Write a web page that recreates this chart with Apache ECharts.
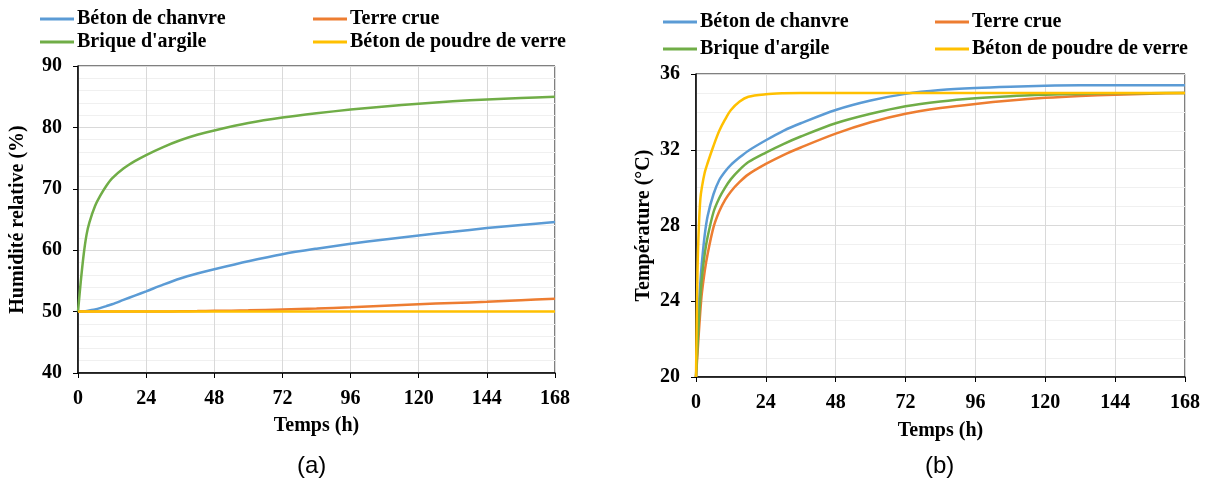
<!DOCTYPE html>
<html>
<head>
<meta charset="utf-8">
<script src="https://cdn.jsdelivr.net/npm/echarts@6/dist/echarts.min.js"></script>
<style>
html,body{margin:0;padding:0;background:#fff;}
#c{width:1205px;height:484px;}
</style>
</head>
<body>
<div id="c"></div>
<script>
// ---- Data ----
const seriesNames = ['Béton de chanvre', 'Terre crue', "Brique d'argile", 'Béton de poudre de verre'];
const xTicks = [0, 24, 48, 72, 96, 120, 144, 168];

// (a) Relative humidity
const timesRH = [0,1,2,3,4,6,8,10,12,16,20,24,30,36,42,48,60,72,84,96,108,120,132,144,156,168];
const rhChanvre = [50,50.02,50.05,50.1,50.2,50.35,50.6,50.9,51.2,51.9,52.6,53.3,54.4,55.4,56.2,56.9,58.2,59.35,60.25,61.05,61.75,62.4,63.0,63.6,64.1,64.6];
const rhTerre = [50,50,50,50,50,50,50,50,50,50,50,50,50.02,50.05,50.08,50.12,50.2,50.35,50.5,50.7,50.95,51.2,51.4,51.6,51.85,52.1];
const rhBrique = [50,55,59.3,62.5,64.5,67.2,69.0,70.5,71.7,73.3,74.5,75.5,76.8,77.9,78.8,79.5,80.7,81.6,82.3,82.9,83.4,83.85,84.25,84.55,84.8,85.0];
const rhVerre = [50,50,50,50,50,50,50,50,50,50,50,50,50,50,50,50,50,50,50,50,50,50,50,50,50,50];

// (b) Temperature
const timesT = [0,0.5,1,1.5,2,3,4,6,8,10,12,15,18,24,30,36,48,60,72,84,96,108,120,132,144,156,168];
const tChanvre = [20,22.0,23.8,25.0,26.0,27.5,28.5,29.65,30.4,30.85,31.2,31.6,31.95,32.5,33.0,33.4,34.1,34.6,34.95,35.15,35.26,35.33,35.38,35.4,35.4,35.4,35.4];
const tTerre = [20,21.2,22.4,23.5,24.4,25.6,26.5,27.9,28.75,29.35,29.8,30.3,30.7,31.25,31.72,32.12,32.85,33.45,33.9,34.2,34.42,34.6,34.74,34.84,34.91,34.96,35.0];
const tBrique = [20,21.6,23.0,24.2,25.2,26.5,27.4,28.7,29.45,30.0,30.45,30.95,31.35,31.85,32.3,32.7,33.4,33.9,34.3,34.55,34.72,34.83,34.9,34.95,34.98,34.99,35.0];
const tVerre = [20,25.5,28.0,29.4,30.0,30.8,31.3,32.2,33.0,33.6,34.1,34.55,34.8,34.93,34.98,35,35,35,35,35,35,35,35,35,35,35,35];

const colors = ['#5B9BD5', '#ED7D31', '#70AD47', '#FFC000'];

// ---- Chart ----
const FONT = '"Liberation Serif","Times New Roman",serif';
const chart = echarts.init(document.getElementById('c'), null, {renderer: 'canvas'});

function pairs(xs, ys) { return xs.map((x, i) => [x, ys[i]]); }

function xAxisCfg(gridIndex, nameGap) {
  return {
    type: 'value', gridIndex, min: 0, max: 168, interval: 24,
    name: 'Temps (h)', nameLocation: 'middle', nameGap,
    nameTextStyle: {fontFamily: FONT, fontWeight: 'bold', fontSize: 20, color: '#000'},
    axisLine: {show: true, onZero: false, lineStyle: {color: '#000', width: 1.5}},
    axisTick: {show: true, inside: false, length: 5, lineStyle: {color: '#000', width: 1}},
    axisLabel: {fontFamily: FONT, fontWeight: 'bold', fontSize: 20, color: '#000', margin: 16},
    splitLine: {show: true, lineStyle: {color: '#d9d9d9', width: 1}}
  };
}
function yAxisCfg(gridIndex, min, max, interval, minorSplit, name, nameGap) {
  return {
    type: 'value', gridIndex, min, max, interval,
    name, nameLocation: 'middle', nameGap, nameRotate: 90,
    nameTextStyle: {fontFamily: FONT, fontWeight: 'bold', fontSize: 20, color: '#000'},
    axisLine: {show: true, onZero: false, lineStyle: {color: '#000', width: 1.5}},
    axisTick: {show: true, inside: false, length: 5, lineStyle: {color: '#000', width: 1}},
    axisLabel: {fontFamily: FONT, fontWeight: 'bold', fontSize: 20, color: '#000', margin: 16},
    splitLine: {show: true, lineStyle: {color: '#d9d9d9', width: 1}},
    minorTick: {show: false, splitNumber: minorSplit},
    minorSplitLine: {show: true, lineStyle: {color: '#f0f0f0', width: 1}}
  };
}

const leftData = [rhChanvre, rhTerre, rhBrique, rhVerre];
const rightData = [tChanvre, tTerre, tBrique, tVerre];

const series = [];
seriesNames.forEach((n, i) => {
  series.push({
    name: n, type: 'line', xAxisIndex: 0, yAxisIndex: 0,
    data: pairs(timesRH, leftData[i]), showSymbol: false, symbol: 'none',
    smooth: 0.3,
    lineStyle: {color: colors[i], width: 2.5}, itemStyle: {color: colors[i]}, z: 2 + i
  });
});
seriesNames.forEach((n, i) => {
  series.push({
    name: n, type: 'line', xAxisIndex: 1, yAxisIndex: 1,
    data: pairs(timesT, rightData[i]), showSymbol: false, symbol: 'none',
    smooth: 0.3,
    lineStyle: {color: colors[i], width: 2.5}, itemStyle: {color: colors[i]}, z: 2 + i
  });
});

function legendItem(name, left, top) {
  return {
    data: [name], left, top, orient: 'horizontal',
    icon: 'rect', itemWidth: 34, itemHeight: 3, itemGap: 0,
    padding: 0, selectedMode: false,
    textStyle: {fontFamily: FONT, fontWeight: 'bold', fontSize: 20, color: '#000', padding: [0, 0, 0, -2]}
  };
}
const legends = [
  legendItem(seriesNames[0], 40, 9),
  legendItem(seriesNames[1], 313, 9),
  legendItem(seriesNames[2], 40, 32),
  legendItem(seriesNames[3], 313, 32),
  legendItem(seriesNames[0], 663, 12),
  legendItem(seriesNames[1], 935, 12),
  legendItem(seriesNames[2], 663, 39),
  legendItem(seriesNames[3], 935, 39)
];

chart.setOption({
  animation: false,
  backgroundColor: '#fff',
  legend: legends,
  grid: [
    {left: 78, top: 66, width: 477, height: 307, show: true, borderColor: '#000', borderWidth: 1, backgroundColor: 'transparent'},
    {left: 696, top: 74, width: 489, height: 303, show: true, borderColor: '#000', borderWidth: 1, backgroundColor: 'transparent'}
  ],
  xAxis: [xAxisCfg(0, 43), xAxisCfg(1, 44)],
  yAxis: [
    yAxisCfg(0, 40, 90, 10, 5, 'Humidité relative (%)', 50),
    yAxisCfg(1, 20, 36, 4, 4, 'Température (°C)', 42)
  ],
  graphic: [
    {type: 'text', left: 297, top: 454, style: {text: '(a)', font: '24px "Liberation Sans", Arial, sans-serif', fill: '#000'}},
    {type: 'text', left: 925, top: 454, style: {text: '(b)', font: '24px "Liberation Sans", Arial, sans-serif', fill: '#000'}}
  ],
  series
});
</script>
</body>
</html>
